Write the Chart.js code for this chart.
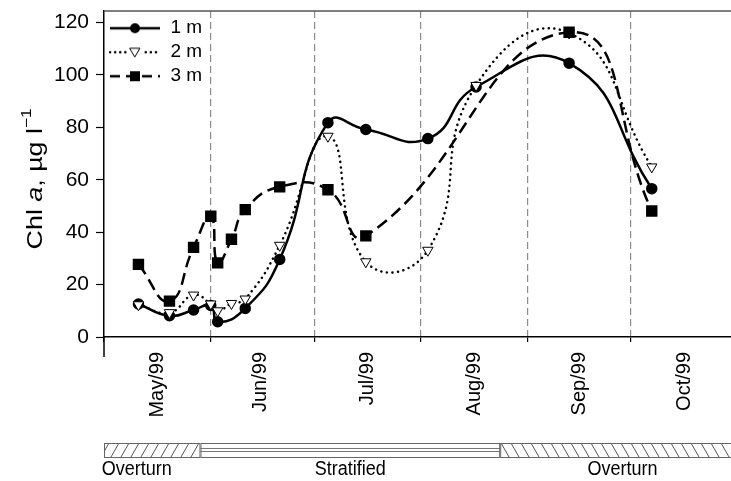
<!DOCTYPE html>
<html lang="en">
<head>
  <meta charset="UTF-8" />
  <title>Chl a at 1, 2 and 3 m</title>
  <script src="https://cdn.jsdelivr.net/npm/chart.js"></script>
  <style>
    html, body { margin: 0; padding: 0; background: #fff; }
    #wrap { position: relative; width: 731px; height: 481px; }
  </style>
</head>
<body>
<div id="wrap"><canvas id="chlChart"></canvas></div>

<script>
  // sampling days (days after 1 May 1999) and Chl a values, ug/l
  const days1 = [10, 19, 26, 31, 33, 41, 51, 65, 76, 94, 108, 135, 159];
  const chl1  = [12.6, 8.1, 10.3, 12.0, 5.8, 10.9, 29.6, 81.8, 79.2, 75.7, 95.4, 104.5, 56.6];
  const days2 = [10, 19, 26, 31, 33, 37, 41, 51, 65, 76, 94, 108, 135, 159];
  const chl2  = [12.3, 9.3, 16.0, 12.6, 10.0, 12.8, 14.5, 35.0, 76.6, 28.7, 33.1, 96.0, 116.0, 64.9];
  const days3 = [10, 19, 26, 31, 33, 37, 41, 51, 65, 76, 135, 159];
  const chl3  = [27.7, 13.7, 34.2, 46.1, 28.3, 37.3, 48.6, 57.3, 56.2, 38.6, 116.3, 48.1];

  const seriesNames = ['1 m', '2 m', '3 m'];

  // axis ticks
  const monthStarts = [0, 31, 61, 92, 123, 153];
  const monthMids   = [15.5, 45.5, 76.5, 107.5, 138, 168.5];
  const monthLabels = ['May/99', 'Jun/99', 'Jul/99', 'Aug/99', 'Sep/99', 'Oct/99'];
  const yTicks = [0, 20, 40, 60, 80, 100, 120];

  // mixing periods (days after 1 May)
  const periodStart  = [-9, 28, 115];
  const periodEnd    = [28, 115, 186];
  const periodLabels = ['Overturn', 'Stratified', 'Overturn'];
  const periodKind   = ['slash', 'layers', 'backslash'];

  const FONT = "'Liberation Sans', Arial, sans-serif";
  const NARROW = "'Liberation Sans Narrow', 'Arial Narrow', 'Liberation Sans', Arial, sans-serif";

  const toXY = (xs, ys) => xs.map((d, i) => ({ x: d, y: ys[i] }));

  // little canvases used as legend symbols (line + marker)
  function legendIcon(dash, cap, marker) {
    const c = document.createElement('canvas');
    c.width = 52; c.height = 16;
    const g = c.getContext('2d');
    g.strokeStyle = '#000';
    g.lineWidth = 2.5;
    g.lineCap = cap;
    g.setLineDash(dash);
    g.beginPath(); g.moveTo(1, 8); g.lineTo(51, 8); g.stroke();
    g.setLineDash([]);
    g.lineWidth = 1;
    if (marker === 'circle') {
      g.fillStyle = '#000';
      g.beginPath(); g.arc(26, 8, 5, 0, Math.PI * 2); g.fill();
    } else if (marker === 'tri') {
      g.fillStyle = '#fff';
      g.clearRect(19, 1, 14, 14);
      g.fillRect(19, 1, 14, 14);
      g.beginPath(); g.moveTo(21, 4); g.lineTo(31, 4); g.lineTo(26, 12.5); g.closePath();
      g.fill(); g.stroke();
    } else {
      g.fillStyle = '#000';
      g.fillRect(21, 3, 10, 10);
    }
    return c;
  }
  const legendIcons = [
    legendIcon([], 'butt', 'circle'),
    legendIcon([0.1, 5], 'round', 'tri'),
    legendIcon([10, 6], 'butt', 'rect')
  ];

  function hatch(dir) {
    const p = document.createElement('canvas');
    p.width = 10; p.height = 14;
    const g = p.getContext('2d');
    g.strokeStyle = '#555';
    g.lineWidth = 1;
    g.beginPath();
    if (dir === 'slash') {
      g.moveTo(1, 14); g.lineTo(9, 0);
    } else {
      g.moveTo(1, 0); g.lineTo(9, 14);
    }
    g.stroke();
    return p;
  }

  const noPad = s => { s.paddingLeft = 0; s.paddingRight = 0; s.paddingTop = 0; s.paddingBottom = 0; };

  const decor = {
    id: 'decor',
    afterDraw(chart) {
      const { ctx, chartArea: a, scales: { x } } = chart;
      ctx.save();

      // top frame line
      ctx.strokeStyle = '#555';
      ctx.lineWidth = 1.5;
      ctx.beginPath(); ctx.moveTo(a.left, a.top); ctx.lineTo(a.right, a.top); ctx.stroke();

      // long tick at the start of the time axis
      ctx.strokeStyle = '#000';
      ctx.beginPath(); ctx.moveTo(a.left, a.bottom); ctx.lineTo(a.left, a.bottom + 20); ctx.stroke();

      // mixing period bar
      const top = a.bottom + 106, h = 14;
      ctx.save();
      ctx.beginPath();
      ctx.rect(a.left, top - 2, chart.width - a.left, h + 4);
      ctx.clip();
      periodStart.forEach((s, i) => {
        const x0 = x.getPixelForValue(s), x1 = x.getPixelForValue(periodEnd[i]);
        const kind = periodKind[i];
        ctx.fillStyle = '#fff';
        ctx.fillRect(x0, top, x1 - x0, h);
        if (kind === 'layers') {
          ctx.strokeStyle = '#777';
          ctx.lineWidth = 1;
          [top + 5.5, top + 8.5].forEach(yy => {
            ctx.beginPath(); ctx.moveTo(x0, yy); ctx.lineTo(x1, yy); ctx.stroke();
          });
        } else {
          const pat = ctx.createPattern(hatch(kind), 'repeat');
          ctx.save();
          ctx.translate(0, top);
          ctx.fillStyle = pat;
          ctx.fillRect(x0, 0, x1 - x0, h);
          ctx.restore();
        }
        ctx.strokeStyle = '#666';
        ctx.lineWidth = 1;
        ctx.strokeRect(x0 + 0.5, top + 0.5, x1 - x0 - 1, h);
      });
      ctx.strokeStyle = '#666';
      ctx.beginPath(); ctx.moveTo(a.left + 0.5, top); ctx.lineTo(a.left + 0.5, top + h + 0.5); ctx.stroke();
      ctx.restore();

      // period labels
      ctx.fillStyle = '#000';
      ctx.textBaseline = 'top';
      ctx.textAlign = 'center';
      ctx.font = '20px ' + FONT;
      periodLabels.forEach((t, i) => {
        const cx = (x.getPixelForValue(periodStart[i]) + x.getPixelForValue(periodEnd[i])) / 2;
        ctx.save();
        ctx.translate(cx, top + h + 2);
        ctx.scale(0.9, 1);
        ctx.fillText(t, 0, 0);
        ctx.restore();
      });

      // y axis title: Chl a, ug l-1 with italic a and superscript
      const parts = [
        { t: 'Chl ', f: '22px ' + FONT, dy: 0 },
        { t: 'a', f: 'italic 22px ' + FONT, dy: 0 },
        { t: ', \u00b5g l', f: '22px ' + FONT, dy: 0 },
        { t: '\u22121', f: '14px ' + FONT, dy: -9 }
      ];
      let total = 0;
      parts.forEach(p => { ctx.font = p.f; p.w = ctx.measureText(p.t).width; total += p.w; });
      ctx.translate(36, 179);
      ctx.rotate(-Math.PI / 2);
      ctx.scale(1.22, 1);
      ctx.textAlign = 'left';
      ctx.textBaseline = 'middle';
      let cx = -total / 2;
      parts.forEach(p => {
        ctx.font = p.f;
        ctx.fillText(p.t, cx, p.dy);
        cx += p.w;
      });

      ctx.restore();
    }
  };

  const common = { borderColor: '#000', borderWidth: 2.5, fill: false, tension: 0.5 };

  new Chart(document.getElementById('chlChart'), {
    type: 'line',
    data: {
      datasets: [
        Object.assign({}, common, {
          label: seriesNames[0], data: toXY(days1, chl1), order: 3,
          pointStyle: 'circle', pointRadius: 4.5, pointBackgroundColor: '#000', pointBorderColor: '#000'
        }),
        Object.assign({}, common, {
          label: seriesNames[1], data: toXY(days2, chl2), order: 2,
          borderDash: [0.1, 5.5], borderCapStyle: 'round',
          pointStyle: 'triangle', pointRotation: 180, pointRadius: 6,
          pointBackgroundColor: '#fff', pointBorderColor: '#000', pointBorderWidth: 1
        }),
        Object.assign({}, common, {
          label: seriesNames[2], data: toXY(days3, chl3), order: 1,
          borderDash: [12, 6],
          pointStyle: 'rect', pointRadius: 6.3, pointBackgroundColor: '#000', pointBorderColor: '#000'
        })
      ]
    },
    options: {
      responsive: true,
      maintainAspectRatio: false,
      animation: false,
      layout: { autoPadding: false, padding: { left: 0, top: 11, right: 0, bottom: 59 } },
      plugins: {
        tooltip: { enabled: false },
        legend: {
          position: 'chartArea',
          align: 'start',
          title: { display: true, text: ' ', font: { size: 1 }, padding: { top: 12.5, bottom: 0 } },
          labels: {
            usePointStyle: true,
            pointStyleWidth: 52,
            boxHeight: 16,
            padding: 5,
            color: '#000',
            font: { family: NARROW, size: 19 },
            sort: (a, b) => a.datasetIndex - b.datasetIndex,
            generateLabels: chart => Chart.defaults.plugins.legend.labels.generateLabels(chart)
              .map(it => Object.assign(it, { pointStyle: legendIcons[it.datasetIndex], rotation: 0 }))
          }
        }
      },
      scales: {
        x: {
          type: 'linear', position: 'bottom', min: 0, max: 182,
          afterBuildTicks: s => { s.ticks = monthStarts.map(v => ({ value: v })); },
          afterFit: s => { s.height = 5; noPad(s); },
          ticks: { display: false },
          grid: {
            color: c => (c.tick && c.tick.value === 0) ? 'rgba(0,0,0,0)' : '#8c8c8c',
            lineWidth: 1.2, tickColor: '#000', tickLength: 5, tickWidth: 1.2
          },
          border: { color: '#000', width: 1.5, dash: [7, 4] }
        },
        xm: {
          type: 'linear', position: 'bottom', min: 0, max: 182,
          afterBuildTicks: s => { s.ticks = monthMids.map(v => ({ value: v })); },
          afterFit: s => { s.height = 80; noPad(s); },
          ticks: {
            autoSkip: false, minRotation: 90, maxRotation: 90, padding: 10,
            color: '#000', font: { family: FONT, size: 20 },
            callback: (v, i) => monthLabels[i]
          },
          grid: { display: false, drawTicks: false },
          border: { display: false }
        },
        y: {
          min: 0, max: 124.4,
          afterBuildTicks: s => { s.ticks = yTicks.map(v => ({ value: v })); },
          afterFit: s => { s.width = 104; noPad(s); },
          ticks: { padding: 7, color: '#000', font: { family: NARROW, size: 21 } },
          grid: { drawOnChartArea: false, tickColor: '#000', tickLength: 8, tickWidth: 1.2 },
          border: { color: '#000', width: 1.5 }
        }
      }
    },
    plugins: [decor]
  });
</script>
</body>
</html>
